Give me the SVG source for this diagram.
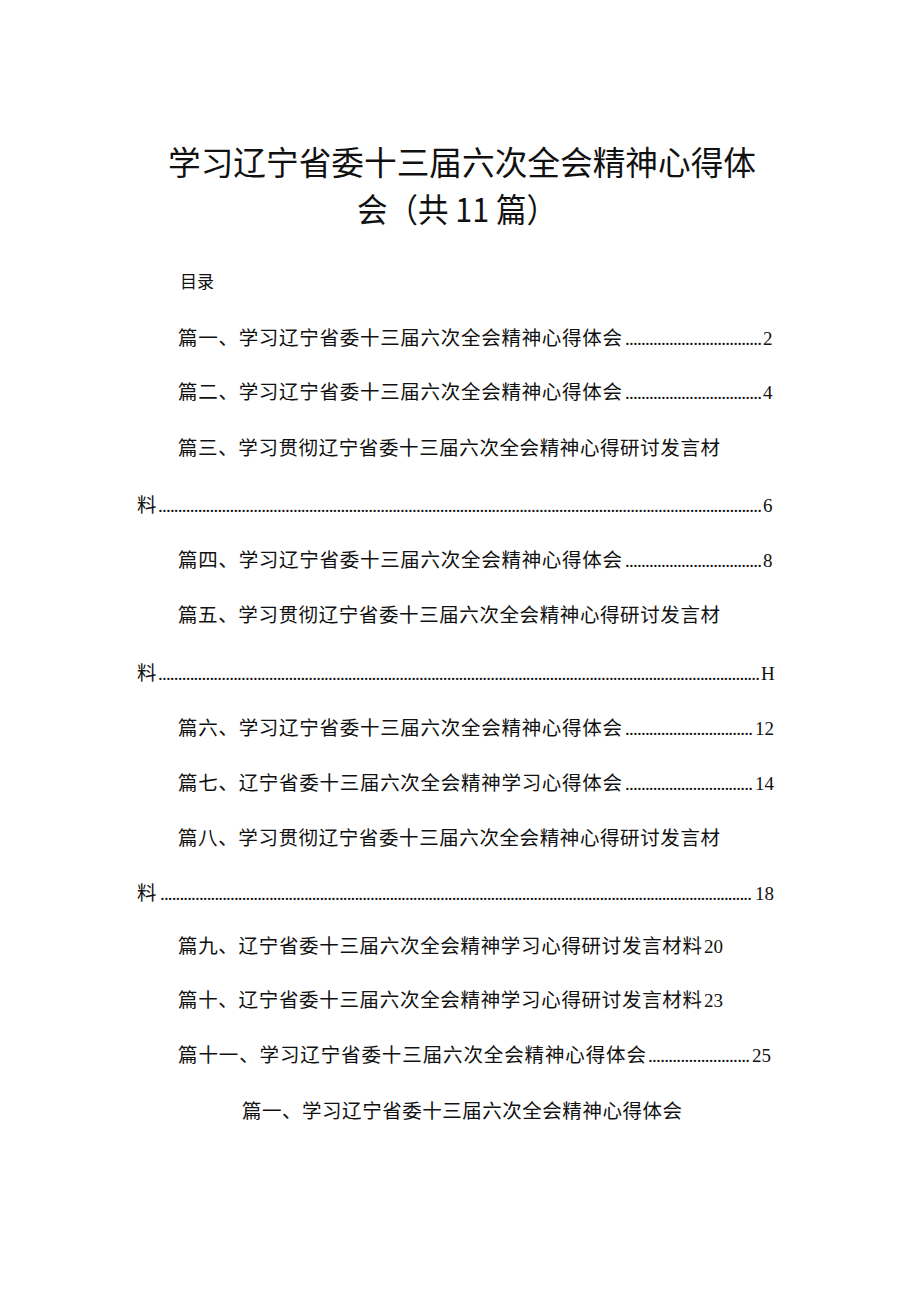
<svg xmlns="http://www.w3.org/2000/svg" width="920" height="1301" viewBox="0 0 920 1301">
<style>
text{font-family:"Liberation Serif","Noto Sans CJK SC",serif;fill:#111}
.t{font-family:"Noto Sans CJK SC",sans-serif;font-size:33px}
.e{font-family:"Noto Sans CJK SC",sans-serif;font-size:19.5px}
.n{font-size:19px}
</style>
<rect width="920" height="1301" fill="#fff"/>
<text class="t" x="168" y="175" textLength="588" lengthAdjust="spacingAndGlyphs">学习辽宁省委十三届六次全会精神心得体</text>
<text class="t" x="357" y="222" textLength="200" lengthAdjust="spacingAndGlyphs">会（共 11 篇）</text>
<text class="e" x="180" y="288" style="font-size:17px">目录</text>
<g class="n">
<text class="e" x="178" y="345" textLength="444">篇一、学习辽宁省委十三届六次全会精神心得体会</text>
<text class="n" x="625" y="345" textLength="137" lengthAdjust="spacing">..................................</text><text class="n" x="763" y="345">2</text>
<text class="e" x="178" y="399" textLength="444">篇二、学习辽宁省委十三届六次全会精神心得体会</text>
<text class="n" x="625" y="399" textLength="137" lengthAdjust="spacing">..................................</text><text class="n" x="763" y="399">4</text>
<text class="e" x="178" y="455" textLength="542">篇三、学习贯彻辽宁省委十三届六次全会精神心得研讨发言材</text>
<text class="e" x="137" y="512">料</text>
<text class="n" x="158" y="512" textLength="604" lengthAdjust="spacing">........................................................................................................................................................</text><text class="n" x="763" y="512">6</text>
<text class="e" x="178" y="567" textLength="444">篇四、学习辽宁省委十三届六次全会精神心得体会</text>
<text class="n" x="625" y="567" textLength="137" lengthAdjust="spacing">..................................</text><text class="n" x="763" y="567">8</text>
<text class="e" x="178" y="622" textLength="542">篇五、学习贯彻辽宁省委十三届六次全会精神心得研讨发言材</text>
<text class="e" x="137" y="680">料</text>
<text class="n" x="158" y="680" textLength="602" lengthAdjust="spacing">........................................................................................................................................................</text><text class="n" x="761" y="680">H</text>
<text class="e" x="178" y="735" textLength="444">篇六、学习辽宁省委十三届六次全会精神心得体会</text>
<text class="n" x="625" y="735" textLength="128" lengthAdjust="spacing">................................</text><text class="n" x="755" y="735">12</text>
<text class="e" x="178" y="790" textLength="444">篇七、辽宁省委十三届六次全会精神学习心得体会</text>
<text class="n" x="625" y="790" textLength="128" lengthAdjust="spacing">................................</text><text class="n" x="755" y="790">14</text>
<text class="e" x="178" y="845" textLength="542">篇八、学习贯彻辽宁省委十三届六次全会精神心得研讨发言材</text>
<text class="e" x="137" y="900">料</text>
<text class="n" x="160" y="900" textLength="592" lengthAdjust="spacing">........................................................................................................................................................</text><text class="n" x="755" y="900">18</text>
<text class="e" x="178" y="953" textLength="524">篇九、辽宁省委十三届六次全会精神学习心得研讨发言材料</text><text class="n" x="704" y="953">20</text>
<text class="e" x="178" y="1007" textLength="524">篇十、辽宁省委十三届六次全会精神学习心得研讨发言材料</text><text class="n" x="704" y="1007">23</text>
<text class="e" x="178" y="1062" textLength="468">篇十一、学习辽宁省委十三届六次全会精神心得体会</text>
<text class="n" x="648" y="1062" textLength="102" lengthAdjust="spacing">.........................</text><text class="n" x="752" y="1062">25</text>
<text class="e" x="242" y="1118" textLength="440">篇一、学习辽宁省委十三届六次全会精神心得体会</text>
</g>
</svg>
